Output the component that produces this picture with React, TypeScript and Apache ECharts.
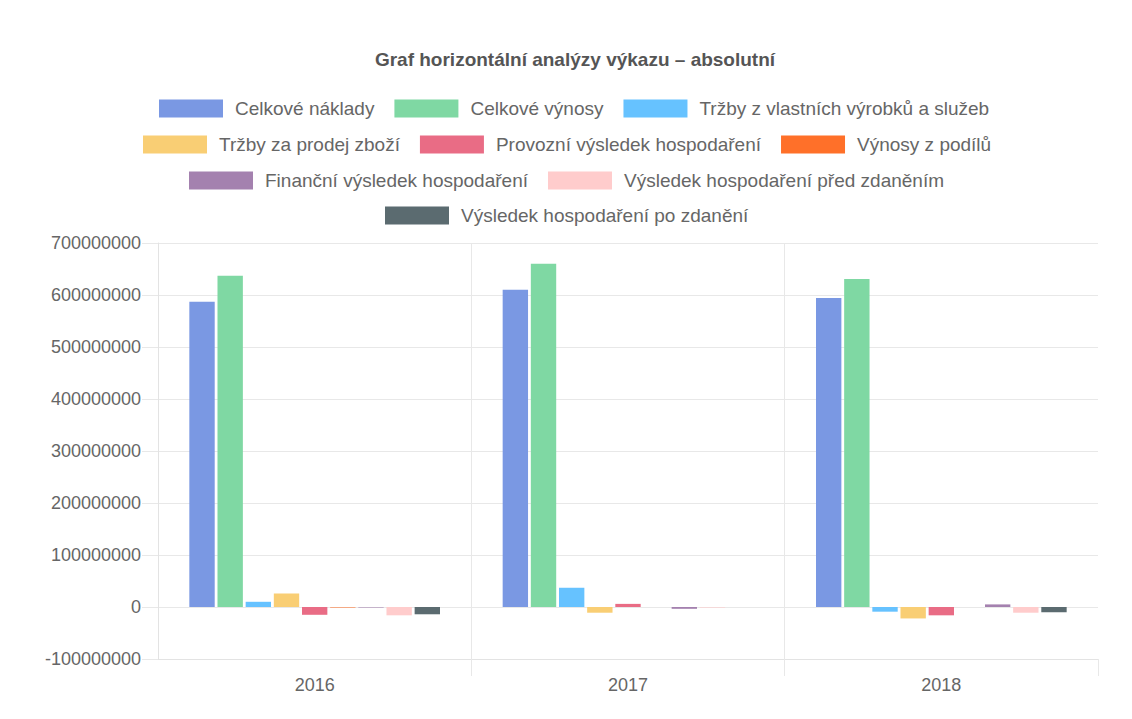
import React, { useEffect, useRef } from "react";
import * as echarts from "echarts";

const years = ["2016", "2017", "2018"];

const seriesNames = [
  "Celkové náklady",
  "Celkové výnosy",
  "Tržby z vlastních výrobků a služeb",
  "Tržby za prodej zboží",
  "Provozní výsledek hospodaření",
  "Výnosy z podílů",
  "Finanční výsledek hospodaření",
  "Výsledek hospodaření před zdaněním",
  "Výsledek hospodaření po zdanění",
];

const seriesColors = [
  "#7a98e3",
  "#7fd8a3",
  "#66c2ff",
  "#f9ce74",
  "#e96c85",
  "#ff7029",
  "#a481af",
  "#ffcccc",
  "#5b6b70",
];

const celkoveNaklady = [587000000, 610000000, 594000000];
const celkoveVynosy = [637000000, 660000000, 631000000];
const trzbyVlastni = [10000000, 37000000, -9000000];
const trzbyZbozi = [26000000, -11000000, -22000000];
const provozniVH = [-15000000, 6000000, -16000000];
const vynosyPodilu = [-1000000, 0, 0];
const financniVH = [-1000000, -3500000, 5000000];
const vhPredZdanenim = [-16000000, -1000000, -11000000];
const vhPoZdaneni = [-14000000, 0, -10000000];

const seriesValues = [
  celkoveNaklady,
  celkoveVynosy,
  trzbyVlastni,
  trzbyZbozi,
  provozniVH,
  vynosyPodilu,
  financniVH,
  vhPredZdanenim,
  vhPoZdaneni,
];

const yTicks = { min: -100000000, max: 700000000, interval: 100000000 };

const legendRows = [
  [0, 1, 2],
  [3, 4, 5],
  [6, 7],
  [8],
];
const legendTops = [99, 135, 171, 206];
const legendCenters = [574, 567, 567, 567];

const FONT = "Arial, 'Liberation Sans', Helvetica, sans-serif";
const CHART_OFFSET = 18;
const ICON_W = 64;
const ICON_TEXT_GAP = 5 + 7;
const ITEM_GAP = 20;
const LEGEND_FONT = 19;

function measure(text: string): number {
  const c = document.createElement("canvas").getContext("2d");
  if (!c) return text.length * 9;
  c.font = `${LEGEND_FONT}px ${FONT}`;
  return c.measureText(text).width;
}

export default function App() {
  const ref = useRef<HTMLDivElement>(null);

  useEffect(() => {
    if (!ref.current) return;
    const chart = echarts.init(ref.current, null, { renderer: "svg" });

    const legends = legendRows.map((row, i) => {
      const w =
        row.reduce((s, k) => s + ICON_W + ICON_TEXT_GAP + measure(seriesNames[k]), 0) +
        ITEM_GAP * (row.length - 1);
      return {
        top: legendTops[i],
        left: Math.round(legendCenters[i] - CHART_OFFSET - w / 2),
        orient: "horizontal",
        padding: 0,
        itemWidth: ICON_W,
        itemHeight: 18,
        itemGap: ITEM_GAP,
        icon: "rect",
        data: row.map((k) => seriesNames[k]),
        textStyle: {
          fontFamily: FONT,
          fontSize: LEGEND_FONT,
          color: "#666",
          padding: [0, 0, 0, 7],
        },
      };
    });

    chart.setOption({
      animation: false,
      backgroundColor: "#ffffff",
      color: seriesColors,
      title: {
        text: "Graf horizontální analýzy výkazu – absolutní",
        left: "center",
        top: 45,
        textStyle: {
          fontFamily: FONT,
          fontSize: 19,
          fontWeight: "bold",
          color: "#555",
        },
      },
      legend: legends,
      grid: { left: 140, right: 34, top: 243, bottom: 60 },
      xAxis: {
        type: "category",
        data: years,
        axisLine: { show: true, onZero: false, lineStyle: { color: "#e3e3e3" } },
        axisTick: {
          show: true,
          length: 17,
          interval: (index: number) => index > 0,
          lineStyle: { color: "#e8e8e8" },
        },
        splitLine: {
          show: true,
          lineStyle: { color: ["rgba(0,0,0,0)", "#e8e8e8", "#e8e8e8", "rgba(0,0,0,0)"] },
        },
        axisLabel: {
          fontFamily: FONT,
          fontSize: 18,
          color: "#666",
          margin: 17,
        },
      },
      yAxis: {
        type: "value",
        min: yTicks.min,
        max: yTicks.max,
        interval: yTicks.interval,
        axisLine: { show: true, lineStyle: { color: "#e3e3e3" } },
        axisTick: { show: true, length: 16, lineStyle: { color: "#e8e8e8" } },
        splitLine: { show: true, lineStyle: { color: "#e8e8e8" } },
        axisLabel: {
          fontFamily: FONT,
          fontSize: 18,
          color: "#666",
          margin: 17,
          formatter: (v: number) => String(v),
        },
      },
      series: seriesNames.map((name, i) => ({
        name,
        type: "bar",
        data: seriesValues[i],
        barCategoryGap: "20%",
        barGap: "11%",
        itemStyle: { color: seriesColors[i] },
      })),
    });

    return () => chart.dispose();
  }, []);

  return (
    <div style={{ position: "absolute", left: 0, top: 0, width: 1132, height: 719, background: "#fff" }}>
      <div ref={ref} style={{ width: 1114, height: 719, position: "absolute", left: CHART_OFFSET, top: 0 }} />
    </div>
  );
}
